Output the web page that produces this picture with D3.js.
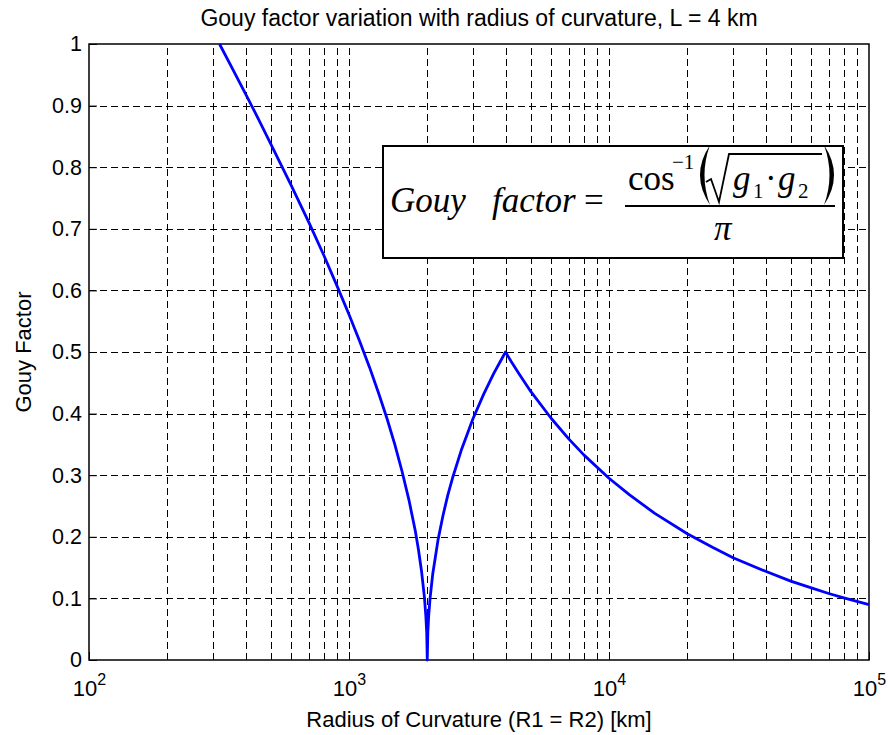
<!DOCTYPE html>
<html>
<head>
<meta charset="utf-8">
<script src="https://cdn.jsdelivr.net/npm/d3@7"></script>
<style>
  html, body { margin: 0; padding: 0; background: #ffffff; }
  svg { display: block; }
</style>
</head>
<body>
<svg id="chart" width="888" height="735"></svg>
<script>
// ---- Data ----
const radiusKm = [317.7, 350, 400, 450, 500, 600, 700, 800, 900, 1000, 1100, 1200, 1300, 1400, 1500,
  1600, 1700, 1800, 1850, 1900, 1950, 1975, 1990, 2000, 2010, 2025, 2050, 2100, 2200, 2300, 2400,
  2500, 2700, 3000, 3300, 3600, 3800, 4000, 4200, 4500, 5000, 6000, 7000, 8000, 10000, 12000,
  15000, 20000, 25000, 30000, 40000, 50000, 60000, 70000, 80000, 100000];
const gouyFactor = [1.000, 0.966, 0.919, 0.877, 0.838, 0.770, 0.711, 0.657, 0.607, 0.561, 0.517,
  0.475, 0.433, 0.392, 0.350, 0.306, 0.260, 0.209, 0.179, 0.145, 0.102, 0.071, 0.045, 0.000,
  0.045, 0.071, 0.100, 0.140, 0.195, 0.235, 0.268, 0.295, 0.340, 0.392, 0.432, 0.465, 0.483,
  0.500, 0.485, 0.465, 0.436, 0.392, 0.359, 0.333, 0.295, 0.268, 0.238, 0.205, 0.183, 0.166,
  0.144, 0.128, 0.117, 0.108, 0.101, 0.090];
const yTicks = [0, 0.1, 0.2, 0.3, 0.4, 0.5, 0.6, 0.7, 0.8, 0.9, 1];
const xDecades = [100, 1000, 10000, 100000];
const xExponents = ["2", "3", "4", "5"];
const titleText = "Gouy factor variation with radius of curvature, L = 4 km";
const xLabelText = "Radius of Curvature (R1 = R2) [km]";
const yLabelText = "Gouy Factor";

(function () {
// ---- Layout ----
const svg = d3.select("#chart");
const pL = 89, pR = 869, pT = 44, pB = 660;
const x = d3.scaleLog().domain([100, 100000]).range([pL, pR]);
const y = d3.scaleLinear().domain([0, 1]).range([pB, pT]);
const sans = "'Liberation Sans', Arial, Helvetica, sans-serif";
const serif = "'Liberation Serif', 'Times New Roman', Times, serif";

// minor grid values on log axis
const xGrid = [];
xDecades.slice(0, 3).forEach(d => { for (let k = 1; k <= 9; k++) { const v = d * k; if (v > 100 && v < 100000) xGrid.push(v); } });

const grid = svg.append("g").attr("stroke", "#000").attr("stroke-width", 1)
  .attr("stroke-dasharray", "7,4").attr("fill", "none");
grid.selectAll("line.v").data(xGrid).join("line").attr("class", "v")
  .attr("x1", d => Math.round(x(d)) + 0.5).attr("x2", d => Math.round(x(d)) + 0.5)
  .attr("y1", pB).attr("y2", pT);
grid.selectAll("line.h").data(yTicks.filter(v => v > 0 && v < 1)).join("line").attr("class", "h")
  .attr("y1", d => Math.round(y(d)) + 0.5).attr("y2", d => Math.round(y(d)) + 0.5)
  .attr("x1", pL).attr("x2", pR);

// axes via d3
const yAxis = d3.axisLeft(y).tickValues(yTicks).tickSize(-8).tickFormat(d3.format("~g"));
const gy = svg.append("g").attr("transform", `translate(${pL},0)`).call(yAxis);
gy.select(".domain").remove();
gy.selectAll("line").attr("stroke", "#000");
gy.selectAll("text").attr("x", -7).attr("font-family", sans).attr("font-size", 21.5).attr("fill", "#000");

const xAxis = d3.axisBottom(x).tickValues(xDecades).tickSize(-8).tickFormat(() => "");
const gx = svg.append("g").attr("transform", `translate(0,${pB})`).call(xAxis);
gx.select(".domain").remove();
gx.selectAll("line").attr("stroke", "#000");
gx.selectAll(".tick").each(function (d, i) {
  const t = d3.select(this).append("text").attr("fill", "#000").attr("font-family", sans)
    .attr("text-anchor", "middle").attr("y", 36).attr("font-size", 22);
  t.append("tspan").text("10");
  t.append("tspan").attr("font-size", 16).attr("dy", -11).text(xExponents[i]);
});

// frame
svg.append("rect").attr("x", pL).attr("y", pT).attr("width", pR - pL).attr("height", pB - pT)
  .attr("fill", "none").attr("stroke", "#000").attr("stroke-width", 1.5);

// curve
const pts = radiusKm.map((r, i) => [r, gouyFactor[i]]);
svg.append("path").datum(pts)
  .attr("d", d3.line().x(d => x(d[0])).y(d => y(d[1])))
  .attr("fill", "none").attr("stroke", "#0000ff").attr("stroke-width", 2.8)
  .attr("stroke-linejoin", "round");

// title and labels
svg.append("text").attr("x", (pL + pR) / 2).attr("y", 26).attr("text-anchor", "middle")
  .attr("font-family", sans).attr("font-size", 23).text(titleText);
svg.append("text").attr("x", (pL + pR) / 2).attr("y", 727).attr("text-anchor", "middle")
  .attr("font-family", sans).attr("font-size", 22).text(xLabelText);
svg.append("text").attr("transform", `translate(31,${(pT + pB) / 2}) rotate(-90)`)
  .attr("text-anchor", "middle").attr("font-family", sans).attr("font-size", 22).text(yLabelText);

// equation box
const eq = svg.append("g");
eq.append("rect").attr("x", 383).attr("y", 146).attr("width", 460).attr("height", 112)
  .attr("fill", "#fff").attr("stroke", "#000").attr("stroke-width", 2);
const t = (txt, px, py, size, italic) => eq.append("text").attr("x", px).attr("y", py)
  .attr("font-family", serif).attr("font-size", size).attr("font-style", italic ? "italic" : "normal").text(txt);
t("Gouy", 390, 212, 35, true);
t("factor", 492, 212, 35, true);
t("=", 584, 212, 35, false);
eq.append("line").attr("x1", 625).attr("x2", 835).attr("y1", 206).attr("y2", 206)
  .attr("stroke", "#000").attr("stroke-width", 1.8);
t("cos", 628, 190, 35, false);
t("\u22121", 672, 169, 21, false);
eq.append("path").attr("d", "M 710 145 Q 690 175 710 205 Q 699 175 710 145 Z").attr("fill", "#000");
eq.append("path").attr("d", "M 824 145 Q 844 175 824 205 Q 835 175 824 145 Z").attr("fill", "#000");
eq.append("path").attr("d", "M 706 182 L 711 179 L 719 202 L 729 154 L 822 154")
  .attr("fill", "none").attr("stroke", "#000").attr("stroke-width", 1.8).attr("stroke-linejoin", "miter");
t("g", 733, 190, 35, true);
t("1", 753, 198, 21, false);
t("\u00b7", 765, 190, 35, false);
t("g", 778, 190, 35, true);
t("2", 798, 198, 21, false);
t("\u03c0", 714, 240, 35, true);
})();
</script>
</body>
</html>
